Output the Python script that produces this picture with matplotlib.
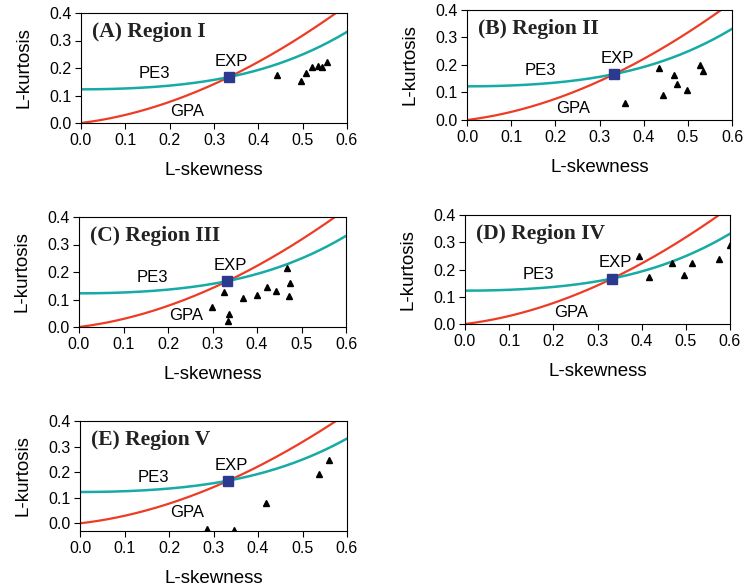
import matplotlib.pyplot as plt
import numpy as np

# L-moment ratios of the sites (L-skewness, L-kurtosis) for each region
titles = ['(A) Region I', '(B) Region II', '(C) Region III', '(D) Region IV', '(E) Region V']

skew_a = [0.441, 0.496, 0.508, 0.522, 0.534, 0.543, 0.554]
kurt_a = [0.173, 0.152, 0.182, 0.204, 0.206, 0.204, 0.222]

skew_b = [0.357, 0.434, 0.443, 0.469, 0.475, 0.498, 0.527, 0.534]
kurt_b = [0.061, 0.188, 0.091, 0.162, 0.130, 0.109, 0.200, 0.178]

skew_c = [0.299, 0.326, 0.338, 0.334, 0.369, 0.401, 0.423, 0.443, 0.468, 0.474, 0.473]
kurt_c = [0.073, 0.128, 0.049, 0.022, 0.106, 0.118, 0.146, 0.130, 0.213, 0.160, 0.113]

skew_d = [0.395, 0.417, 0.468, 0.496, 0.513, 0.574, 0.599]
kurt_d = [0.251, 0.174, 0.223, 0.178, 0.223, 0.238, 0.290]

skew_e = [0.286, 0.345, 0.418, 0.538, 0.560]
kurt_e = [-0.022, -0.026, 0.078, 0.193, 0.246]

# exponential distribution point
exp_skew, exp_kurt = 1 / 3, 1 / 6

# theoretical curves (Hosking & Wallis)
t3 = np.linspace(0, 0.6, 200)
pe3_coef = [0.1224, 0.30115, 0.95812, -0.57488, 0.19383]
pe3 = sum(c * t3 ** (2 * i) for i, c in enumerate(pe3_coef))
gpa = t3 * (1 + 5 * t3) / (5 + t3)

red = '#EE3B24'
teal = '#16ABA5'
blue = '#2B3A8F'
sans = 'Liberation Sans'

fig = plt.figure(figsize=(7.45, 5.87), dpi=100)
W, H = 745, 587
# axes boxes in pixels: left, top, right, bottom
boxes = [(81, 13, 347, 123), (467, 10, 732, 120), (79, 217, 346, 327),
         (465, 215, 730, 324), (80, 421, 347, 531)]
data = [(skew_a, kurt_a), (skew_b, kurt_b), (skew_c, kurt_c),
        (skew_d, kurt_d), (skew_e, kurt_e)]

for i, (box, (sx, ky)) in enumerate(zip(boxes, data)):
    l, t, r, b = box
    ax = fig.add_axes([l / W, 1 - b / H, (r - l) / W, (b - t) / H])
    ax.plot(t3, gpa, color=red, lw=1.6, zorder=2)
    ax.plot(t3, pe3, color=teal, lw=1.8, zorder=2)
    ax.plot(exp_skew, exp_kurt, 's', color=blue, ms=6.5, zorder=4)
    ax.plot(sx, ky, '^', color='black', ms=5, zorder=3)

    ax.text(0.165, 0.18, 'PE3', fontsize=12, family=sans, ha='center', va='center')
    ax.text(0.34, 0.225, 'EXP', fontsize=12, family=sans, ha='center', va='center')
    ax.text(0.24, 0.043, 'GPA', fontsize=12, family=sans, ha='center', va='center')
    ax.text(0.04, 0.83, titles[i], transform=ax.transAxes, fontsize=15.5,
            fontweight='bold', family='Liberation Serif', color='#222222', va='center')

    ax.set_xlim(0, 0.6)
    ax.set_ylim(-0.03 if i == 4 else 0, 0.4)
    ax.set_xticks(np.arange(0, 0.61, 0.1))
    ax.set_yticks(np.arange(0, 0.41, 0.1))
    ax.xaxis.set_major_formatter(plt.FormatStrFormatter('%.1f'))
    ax.yaxis.set_major_formatter(plt.FormatStrFormatter('%.1f'))
    ax.tick_params(direction='out', length=4, width=0.8, labelsize=11.5, pad=3)
    for lab in ax.get_xticklabels() + ax.get_yticklabels():
        lab.set_family(sans)
    ax.set_xlabel('L-skewness', fontsize=13.5, family=sans, labelpad=10)
    ax.set_ylabel('L-kurtosis', fontsize=13.5, family=sans, labelpad=12)
    for sp in ax.spines.values():
        sp.set_linewidth(0.8)

plt.savefig('out.png', dpi=100)
